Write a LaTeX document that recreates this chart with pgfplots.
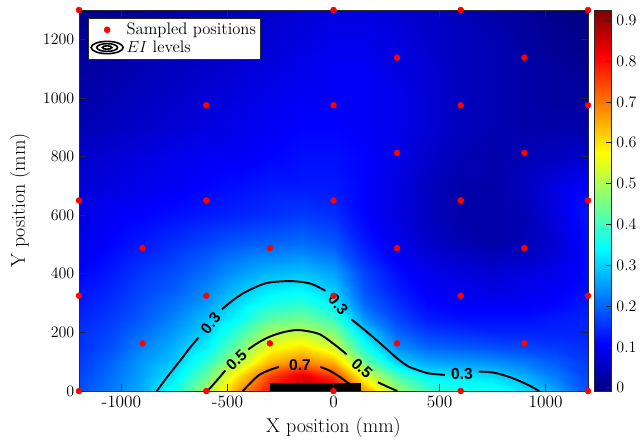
\documentclass[border=0pt]{standalone}
\usepackage{fontspec}
\newfontfamily\helv{Liberation Sans}
\usepackage{pgfplots}
\pgfplotsset{compat=1.18}
\usetikzlibrary{calc}
\definecolor{axgray}{rgb}{0.15,0.15,0.15}

\begin{document}
\begin{tikzpicture}
\begin{axis}[
    name=ax,
    scale only axis,
    width=381.75pt, height=285.75pt,
    xmin=-1200, xmax=1200, ymin=0, ymax=1300,
    xtick={-1000,-500,0,500,1000},
    xticklabels={{-1000},{-500},0,500,1000},
    ytick={0,200,400,600,800,1000,1200},
    /pgf/number format/set thousands separator={},
    tick align=inside,
    major tick length=5pt,
    axis line style={axgray, line width=0.5pt},
    tick style={axgray, line width=0.5pt},
    ticklabel style={font=\fontsize{13}{13}\selectfont},
    xlabel={X position (mm)},
    ylabel={Y position (mm)},
    label style={font=\fontsize{15}{15}\selectfont},
    xlabel style={at={(axis description cs:0.5,-0.097)}, anchor=center},
    ylabel style={at={(axis description cs:-0.1159,0.5)}, anchor=center},
    axis on top,
    clip=false,
    colormap/jet,
    point meta min=-0.008, point meta max=0.925,
    colorbar,
    colorbar style={
        width=12.75pt,
        at={(parent axis.north east)}, anchor=north west, xshift=-3.5pt,
        ytick={0,0.1,0.2,0.3,0.4,0.5,0.6,0.7,0.8,0.9},
        ytick pos=right,
        yticklabel style={font=\fontsize{13}{13}\selectfont,
            /pgf/number format/fixed, /pgf/number format/precision=1},
        axis line style={axgray, line width=0.5pt},
        tick style={axgray, line width=0.5pt},
        tick align=inside, major tick length=4pt,
    },
    legend cell align=left,
    legend style={at={(0.0177,0.979)}, anchor=north west,
        draw=axgray, line width=0.5pt, fill=white,
        font=\fontsize{12.5}{14}\selectfont,
        inner sep=1.5pt, row sep=-1pt},
]

% legend entries first
\addlegendimage{legend image code/.code={\fill[red] (0.44cm,0cm) circle (2.2pt);}}
\addlegendentry{Sampled positions}
\addlegendimage{legend image code/.code={
    \draw[black, line width=1.2pt] (0.44cm,0cm) ellipse (12pt and 4.6pt);
    \draw[black, line width=1.2pt] (0.44cm,0cm) ellipse (7.8pt and 2.9pt);
    \draw[black, line width=1.2pt] (0.44cm,0cm) ellipse (3.6pt and 1.3pt);}}
\addlegendentry{$EI$ levels}

% EI map
\addplot[surf, shader=interp, mesh/cols=17, point meta=explicit, forget plot]
table[row sep=\\, meta=z] {
x y z\\
-1200 0 0.18\\ -1050 0 0.22\\ -900 0 0.27\\ -750 0 0.36\\ -600 0 0.49\\ -450 0 0.67\\ -300 0 0.80\\ -150 0 0.88\\ 0 0 0.84\\ 150 0 0.66\\ 300 0 0.49\\ 450 0 0.40\\ 600 0 0.37\\ 750 0 0.36\\ 900 0 0.32\\ 1050 0 0.26\\ 1200 0 0.18\\
-1200 50 0.17\\ -1050 50 0.21\\ -900 50 0.26\\ -750 50 0.32\\ -600 50 0.43\\ -450 50 0.60\\ -300 50 0.75\\ -150 50 0.83\\ 0 50 0.76\\ 150 50 0.55\\ 300 50 0.41\\ 450 50 0.33\\ 600 50 0.32\\ 750 50 0.31\\ 900 50 0.27\\ 1050 50 0.22\\ 1200 50 0.17\\
-1200 100 0.16\\ -1050 100 0.20\\ -900 100 0.25\\ -750 100 0.29\\ -600 100 0.38\\ -450 100 0.50\\ -300 100 0.64\\ -150 100 0.69\\ 0 100 0.64\\ 150 100 0.44\\ 300 100 0.30\\ 450 100 0.26\\ 600 100 0.25\\ 750 100 0.24\\ 900 100 0.22\\ 1050 100 0.19\\ 1200 100 0.16\\
-1200 150 0.15\\ -1050 150 0.18\\ -900 150 0.23\\ -750 150 0.27\\ -600 150 0.33\\ -450 150 0.44\\ -300 150 0.56\\ -150 150 0.60\\ 0 150 0.53\\ 150 150 0.36\\ 300 150 0.24\\ 450 150 0.20\\ 600 150 0.19\\ 750 150 0.18\\ 900 150 0.17\\ 1050 150 0.16\\ 1200 150 0.15\\
-1200 200 0.15\\ -1050 200 0.17\\ -900 200 0.21\\ -750 200 0.25\\ -600 200 0.30\\ -450 200 0.39\\ -300 200 0.49\\ -150 200 0.51\\ 0 200 0.46\\ 150 200 0.30\\ 300 200 0.20\\ 450 200 0.16\\ 600 200 0.15\\ 750 200 0.14\\ 900 200 0.14\\ 1050 200 0.14\\ 1200 200 0.14\\
-1200 250 0.14\\ -1050 250 0.16\\ -900 250 0.19\\ -750 250 0.23\\ -600 250 0.28\\ -450 250 0.34\\ -300 250 0.42\\ -150 250 0.44\\ 0 250 0.39\\ 150 250 0.24\\ 300 250 0.17\\ 450 250 0.13\\ 600 250 0.12\\ 750 250 0.12\\ 900 250 0.12\\ 1050 250 0.13\\ 1200 250 0.14\\
-1200 300 0.13\\ -1050 300 0.15\\ -900 300 0.18\\ -750 300 0.21\\ -600 300 0.25\\ -450 300 0.31\\ -300 300 0.36\\ -150 300 0.38\\ 0 300 0.33\\ 150 300 0.20\\ 300 300 0.15\\ 450 300 0.11\\ 600 300 0.10\\ 750 300 0.10\\ 900 300 0.10\\ 1050 300 0.11\\ 1200 300 0.13\\
-1200 350 0.12\\ -1050 350 0.14\\ -900 350 0.17\\ -750 350 0.19\\ -600 350 0.23\\ -450 350 0.28\\ -300 350 0.32\\ -150 350 0.33\\ 0 350 0.29\\ 150 350 0.18\\ 300 350 0.13\\ 450 350 0.10\\ 600 350 0.09\\ 750 350 0.08\\ 900 350 0.09\\ 1050 350 0.10\\ 1200 350 0.12\\
-1200 400 0.11\\ -1050 400 0.13\\ -900 400 0.16\\ -750 400 0.18\\ -600 400 0.21\\ -450 400 0.25\\ -300 400 0.28\\ -150 400 0.29\\ 0 400 0.26\\ 150 400 0.17\\ 300 400 0.12\\ 450 400 0.09\\ 600 400 0.08\\ 750 400 0.07\\ 900 400 0.08\\ 1050 400 0.09\\ 1200 400 0.12\\
-1200 500 0.09\\ -1050 500 0.11\\ -900 500 0.13\\ -750 500 0.15\\ -600 500 0.17\\ -450 500 0.19\\ -300 500 0.20\\ -150 500 0.21\\ 0 500 0.19\\ 150 500 0.13\\ 300 500 0.09\\ 450 500 0.06\\ 600 500 0.04\\ 750 500 0.03\\ 900 500 0.04\\ 1050 500 0.07\\ 1200 500 0.12\\
-1200 600 0.08\\ -1050 600 0.10\\ -900 600 0.11\\ -750 600 0.12\\ -600 600 0.13\\ -450 600 0.14\\ -300 600 0.15\\ -150 600 0.16\\ 0 600 0.15\\ 150 600 0.11\\ 300 600 0.08\\ 450 600 0.05\\ 600 600 0.03\\ 750 600 0.03\\ 900 600 0.04\\ 1050 600 0.08\\ 1200 600 0.13\\
-1200 700 0.07\\ -1050 700 0.08\\ -900 700 0.09\\ -750 700 0.10\\ -600 700 0.11\\ -450 700 0.12\\ -300 700 0.13\\ -150 700 0.13\\ 0 700 0.13\\ 150 700 0.11\\ 300 700 0.08\\ 450 700 0.05\\ 600 700 0.03\\ 750 700 0.03\\ 900 700 0.05\\ 1050 700 0.08\\ 1200 700 0.11\\
-1200 800 0.06\\ -1050 800 0.07\\ -900 800 0.08\\ -750 800 0.09\\ -600 800 0.10\\ -450 800 0.10\\ -300 800 0.11\\ -150 800 0.12\\ 0 800 0.12\\ 150 800 0.11\\ 300 800 0.09\\ 450 800 0.06\\ 600 800 0.04\\ 750 800 0.03\\ 900 800 0.04\\ 1050 800 0.05\\ 1200 800 0.06\\
-1200 900 0.04\\ -1050 900 0.05\\ -900 900 0.06\\ -750 900 0.07\\ -600 900 0.08\\ -450 900 0.09\\ -300 900 0.10\\ -150 900 0.11\\ 0 900 0.11\\ 150 900 0.10\\ 300 900 0.09\\ 450 900 0.07\\ 600 900 0.05\\ 750 900 0.04\\ 900 900 0.03\\ 1050 900 0.03\\ 1200 900 0.03\\
-1200 1000 0.03\\ -1050 1000 0.04\\ -900 1000 0.05\\ -750 1000 0.06\\ -600 1000 0.07\\ -450 1000 0.08\\ -300 1000 0.09\\ -150 1000 0.10\\ 0 1000 0.10\\ 150 1000 0.10\\ 300 1000 0.09\\ 450 1000 0.07\\ 600 1000 0.05\\ 750 1000 0.04\\ 900 1000 0.03\\ 1050 1000 0.02\\ 1200 1000 0.02\\
-1200 1100 0.02\\ -1050 1100 0.03\\ -900 1100 0.04\\ -750 1100 0.05\\ -600 1100 0.06\\ -450 1100 0.07\\ -300 1100 0.08\\ -150 1100 0.09\\ 0 1100 0.10\\ 150 1100 0.10\\ 300 1100 0.08\\ 450 1100 0.07\\ 600 1100 0.05\\ 750 1100 0.04\\ 900 1100 0.03\\ 1050 1100 0.02\\ 1200 1100 0.01\\
-1200 1200 0.01\\ -1050 1200 0.02\\ -900 1200 0.03\\ -750 1200 0.04\\ -600 1200 0.05\\ -450 1200 0.06\\ -300 1200 0.07\\ -150 1200 0.08\\ 0 1200 0.09\\ 150 1200 0.09\\ 300 1200 0.08\\ 450 1200 0.06\\ 600 1200 0.05\\ 750 1200 0.04\\ 900 1200 0.02\\ 1050 1200 0.01\\ 1200 1200 0.00\\
-1200 1300 0.00\\ -1050 1300 0.01\\ -900 1300 0.02\\ -750 1300 0.03\\ -600 1300 0.04\\ -450 1300 0.05\\ -300 1300 0.06\\ -150 1300 0.07\\ 0 1300 0.08\\ 150 1300 0.08\\ 300 1300 0.07\\ 450 1300 0.06\\ 600 1300 0.04\\ 750 1300 0.03\\ 900 1300 0.02\\ 1050 1300 0.00\\ 1200 1300 0.00\\
};

% contour 0.3
\addplot[black, line width=1.45pt, smooth, forget plot] coordinates {(-833,0) (-780,52) (-727,100) (-680,145) (-637,182)};
\addplot[black, line width=1.45pt, smooth, forget plot] coordinates {(-526,279) (-470,312) (-412,339) (-318,368) (-216,375) (-150,372) (-98,364) (-38,342)};
\addplot[black, line width=1.45pt, smooth, forget plot] coordinates {(84,245) (130,218) (175,191) (240,150) (301,111) (350,85) (395,72) (450,60) (525,55)};
\addplot[black, line width=1.45pt, smooth, forget plot] coordinates {(684,66) (730,65) (773,60) (820,50) (868,37) (920,20) (970,0)};
% contour 0.5
\addplot[black, line width=1.45pt, smooth, forget plot] coordinates {(-594,0) (-550,36) (-510,70)};
\addplot[black, line width=1.45pt, smooth, forget plot] coordinates {(-402,142) (-355,165) (-302,185) (-240,200) (-176,208) (-120,204) (-66,194) (-20,172) (20,150) (62,125)};
\addplot[black, line width=1.45pt, smooth, forget plot] coordinates {(209,30) (250,16) (301,0)};
% contour 0.7
\addplot[black, line width=1.45pt, smooth, forget plot] coordinates {(-428,0) (-390,28) (-350,55) (-300,72) (-258,82)};
\addplot[black, line width=1.45pt, smooth, forget plot] coordinates {(-62,82) (-20,70) (28,49) (60,32) (90,18) (115,0)};

% black block
\addplot[fill=black, draw=none, forget plot] coordinates {(-298,0) (128,0) (128,26) (-298,26)} -- cycle;

% sampled positions
\addplot[only marks, mark=*, mark size=2.2pt, color=red, forget plot] coordinates {
(-1200,0) (-600,0) (0,0) (600,0) (1200,0)
(-900,162.5) (-300,162.5) (300,162.5) (900,162.5)
(-1200,325) (-600,325) (0,325) (600,325) (1200,325)
(-900,487.5) (-300,487.5) (300,487.5) (900,487.5)
(-1200,650) (-600,650) (0,650) (600,650) (1200,650)
(300,812.5) (900,812.5)
(-600,975) (0,975) (600,975) (1200,975)
(300,1137.5) (900,1137.5)
(-1200,1300) (0,1300) (600,1300) (1200,1300)
};

% contour labels
\node[rotate=51, font=\helv\bfseries\fontsize{11.7}{11.7}\selectfont] at (axis cs:-580,231) {0.3};
\node[rotate=-50, font=\helv\bfseries\fontsize{11.7}{11.7}\selectfont] at (axis cs:22,295) {0.3};
\node[rotate=3, font=\helv\bfseries\fontsize{11.7}{11.7}\selectfont] at (axis cs:605,58) {0.3};
\node[rotate=43, font=\helv\bfseries\fontsize{11.7}{11.7}\selectfont] at (axis cs:-458,106) {0.5};
\node[rotate=-42, font=\helv\bfseries\fontsize{11.7}{11.7}\selectfont] at (axis cs:135,77) {0.5};
\node[font=\helv\bfseries\fontsize{11.7}{11.7}\selectfont] at (axis cs:-158,90) {0.7};
\end{axis}
\pgfresetboundingbox
\path ($(ax.south west)+(-59.25pt,-39pt)$) rectangle ($(ax.north east)+(39.75pt,7.5pt)$);
\end{tikzpicture}
\end{document}
